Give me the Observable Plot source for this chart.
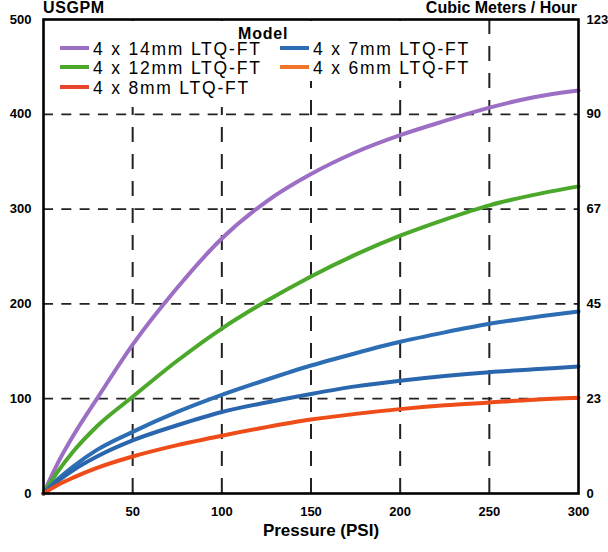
<!DOCTYPE html>
<html>
<head>
<meta charset="utf-8">
<script src="https://cdn.jsdelivr.net/npm/d3@7"></script>
<script src="https://cdn.jsdelivr.net/npm/@observablehq/plot@0.6"></script>
<style>
  html, body { margin: 0; padding: 0; background: white; }
  #chart svg { display: block; }
</style>
</head>
<body>
<div id="chart"></div>
<script>
// ---- data ----
const pressure = [0, 8, 17, 30, 50, 75, 100, 125, 150, 175, 200, 225, 250, 275, 300];
const flow14mm = [0, 32, 62, 100, 157, 217, 269, 308, 337, 360, 378, 393, 407, 418, 425];
const flow12mm = [0, 23, 45, 71, 102, 140, 174, 203, 229, 252, 272, 289, 304, 315, 324];
const flow8mm  = [0, 15, 29, 46, 65, 86, 104, 120, 135, 148, 160, 170, 179, 186, 192];
const flow7mm  = [0, 13, 25, 39, 56, 72, 86, 96, 105, 113, 119, 124, 128, 131, 134];
const flow6mm  = [0, 9, 17, 27, 39, 51, 61, 70, 78, 84, 89, 93, 96, 99, 101];

const seriesNames = ["4 x 14mm LTQ-FT", "4 x 12mm LTQ-FT", "4 x 8mm LTQ-FT", "4 x 7mm LTQ-FT", "4 x 6mm LTQ-FT"];
const seriesValues = [flow14mm, flow12mm, flow8mm, flow7mm, flow6mm];
const lineColors = ["#9c6fc4", "#4ba82a", "#2c6db4", "#2a66ae", "#ee4d1a"];
const legendColors = ["#9c6fc4", "#4ba82a", "#e8462c", "#2c6db4", "#f2762a"];

const xTicks = [50, 100, 150, 200, 250, 300];
const xGrid = [50, 100, 150, 200, 250];
const yTicks = [0, 100, 200, 300, 400, 500];
const yGrid = [100, 200, 300, 400];
const rightLabels = ["0", "23", "45", "67", "90", "123"];

const rows = [];
seriesNames.forEach((name, i) => {
  pressure.forEach((p, j) => rows.push({series: name, pressure: p, flow: seriesValues[i][j]}));
});

const font = "'Liberation Sans', Arial, Helvetica, sans-serif";

const plot = Plot.plot({
  width: 608,
  height: 552,
  marginLeft: 43,
  marginRight: 30,
  marginTop: 19,
  marginBottom: 59,
  style: {fontFamily: font, fontSize: "13px", fontWeight: "bold", background: "white", color: "black"},
  x: {domain: [0, 300]},
  y: {domain: [0, 500]},
  color: {domain: seriesNames, range: lineColors},
  marks: [
    Plot.ruleX(xGrid, {x: d => d, y1: 0, y2: 500, stroke: "#222", strokeWidth: 2, strokeDasharray: "15,12"}),
    Plot.ruleY(yGrid, {y: d => d, stroke: "#222", strokeWidth: 1.8, strokeDasharray: "10,8.3"}),
    Plot.line(rows, {x: "pressure", y: "flow", z: "series", stroke: "series", strokeWidth: 4, curve: "monotone-x"}),
    Plot.frame({stroke: "black", strokeWidth: 2.6}),
    Plot.axisY({ticks: yTicks, tickSize: 0, tickPadding: 12, label: null}),
    Plot.axisY({anchor: "right", ticks: yTicks, tickFormat: d => rightLabels[yTicks.indexOf(d)], tickSize: 0, tickPadding: 8, label: null}),
    Plot.axisX({ticks: xTicks, tickSize: 0, tickPadding: 13, label: null})
  ]
});

document.getElementById("chart").appendChild(plot);

// ---- titles and legend overlay ----
const svg = d3.select(plot);

svg.append("text").attr("x", 43).attr("y", 13).attr("text-anchor", "start").attr("font-family", font)
  .attr("font-weight", "bold").attr("font-size", 16).attr("letter-spacing", 0.6).text("USGPM");
svg.append("text").attr("x", 577).attr("y", 13).attr("text-anchor", "end").attr("font-family", font)
  .attr("font-weight", "bold").attr("font-size", 16).text("Cubic Meters / Hour");
svg.append("text").attr("x", 321).attr("y", 536).attr("text-anchor", "middle").attr("font-family", font)
  .attr("font-weight", "bold").attr("font-size", 17).text("Pressure (PSI)");

const lg = svg.append("g");
lg.append("rect").attr("x", 45).attr("y", 21).attr("width", 425).attr("height", 60).attr("fill", "white");
lg.append("rect").attr("x", 45).attr("y", 80).attr("width", 232).attr("height", 27).attr("fill", "white");
lg.append("text").attr("x", 238).attr("y", 39).attr("text-anchor", "start").attr("font-family", font)
  .attr("font-weight", "bold").attr("font-size", 16).attr("letter-spacing", 0.8).text("Model");

const legendPos = [
  {col: 0, row: 0}, {col: 0, row: 1}, {col: 0, row: 2}, {col: 1, row: 0}, {col: 1, row: 1}
];
const colX = [60, 280];
const rowY = [48, 67, 87];
seriesNames.forEach((name, i) => {
  const p = legendPos[i];
  const x0 = colX[p.col], y0 = rowY[p.row];
  lg.append("line").attr("x1", x0).attr("x2", x0 + 29).attr("y1", y0).attr("y2", y0)
    .attr("stroke", legendColors[i]).attr("stroke-width", 4);
  lg.append("text").attr("x", x0 + 33).attr("y", y0 + 6.5).attr("text-anchor", "start")
    .attr("font-family", font).attr("font-weight", "normal")
    .attr("font-size", 17.5).attr("letter-spacing", 1.8).text(name);
});
</script>
</body>
</html>
